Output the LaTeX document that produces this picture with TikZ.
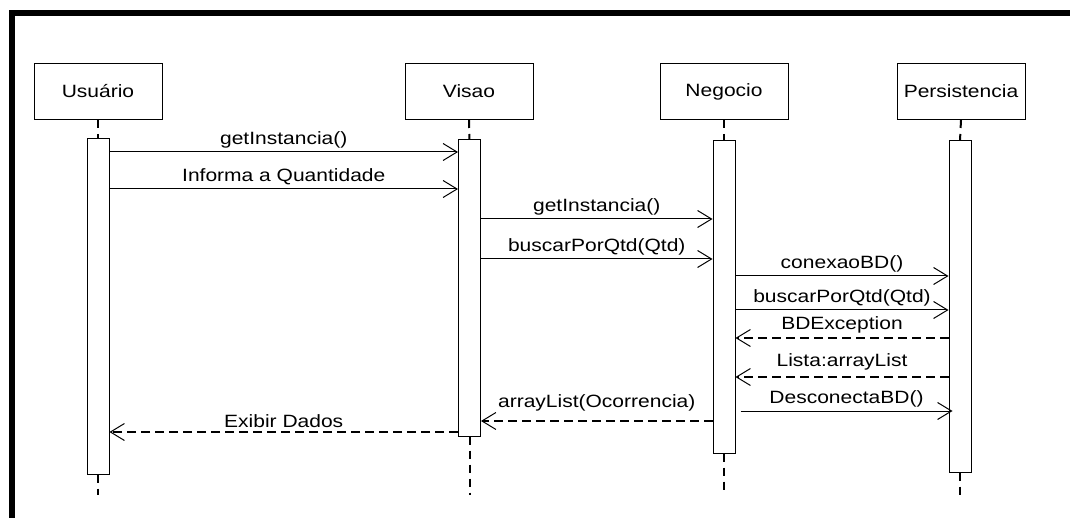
\documentclass[tikz,border=0pt]{standalone}
\usepackage{fontspec}
\setmainfont{Liberation Sans}[FakeStretch=1.18]
\usetikzlibrary{arrows.meta}

\tikzstyle{obj} = [draw, line width=1pt, minimum width=128pt, minimum height=56pt, inner sep=0pt]
\tikzstyle{bar} = [draw, fill=white, line width=1pt, minimum width=22pt, inner sep=0pt]
\tikzstyle{life} = [line width=2pt, dash pattern=on 8pt off 6pt]
\tikzstyle{call} = [line width=1pt, -{Straight Barb[length=14pt,width=17pt]}]
\tikzstyle{ret} = [line width=2pt, dash pattern=on 9pt off 5pt, -{Straight Barb[length=14pt,width=17pt,line width=1pt]}]
\tikzstyle{msg} = [above, inner sep=3.5pt]

\begin{document}
\begin{tikzpicture}[x=1pt, y=-1pt, font=\fontsize{17.8}{21}\selectfont]
    \useasboundingbox (0,0) rectangle (1070,518);
    \draw[line width=6pt] (12,518) -- (12,13.5) -- (1070,13.5);

    \node[obj] (usuario) at (98,91.5) {Usuário};
    \node[obj] (visao) at (469,91.5) {Visao};
    \node[obj] (negocio) at (724,91.5) {Negocio};
    \node[obj] (persist) at (961,91.5) {Persistencia};

    \node[bar, minimum height=335pt] (bU) at (98,306.5) {};
    \node[bar, minimum height=296pt] (bV) at (469.5,288) {};
    \node[bar, minimum height=312pt] (bN) at (724,297) {};
    \node[bar, minimum height=331pt] (bP) at (960,306.5) {};

    \draw[life] (usuario.south) -- (bU.north);
    \draw[life] (visao.south) -- (bV.north);
    \draw[life] (negocio.south) -- (bN.north);
    \draw[life] (persist.south) -- (bP.north);
    \foreach \n in {U,V,N,P}
      \draw[life] (b\n.south) -- (b\n.south |- 0,495);

    \draw[call] (bU.east |- 0,152) -- node[msg] {getInstancia()} (bV.west |- 0,152);
    \draw[call] (bU.east |- 0,189) -- node[msg] {Informa a Quantidade} (bV.west |- 0,189);
    \draw[call] (bV.east |- 0,219) -- node[msg] {getInstancia()} (bN.west |- 0,219);
    \draw[call] (bV.east |- 0,259) -- node[msg] {buscarPorQtd(Qtd)} (bN.west |- 0,259);
    \draw[call] (bN.east |- 0,276) -- node[msg] {conexaoBD()} (bP.west |- 0,276);
    \draw[call] (bN.east |- 0,310) -- node[msg] {buscarPorQtd(Qtd)} (bP.west |- 0,310);
    \draw[ret] (bP.west |- 0,338) -- node[msg] {BDException} (bN.east |- 0,338);
    \draw[ret] (bP.west |- 0,377) -- node[msg, yshift=2pt] {Lista:arrayList} (bN.east |- 0,377);
    \draw[call] ([xshift=5pt]bN.east |- 0,411) -- node[msg] {DesconectaBD()} ([xshift=4pt]bP.west |- 0,411);
    \draw[ret] (bN.west |- 0,421) -- node[msg, yshift=5pt] {arrayList(Ocorrencia)} (bV.east |- 0,421);
    \draw[ret] (bV.west |- 0,432) -- node[msg] {Exibir Dados} (bU.east |- 0,432);
\end{tikzpicture}
\end{document}
